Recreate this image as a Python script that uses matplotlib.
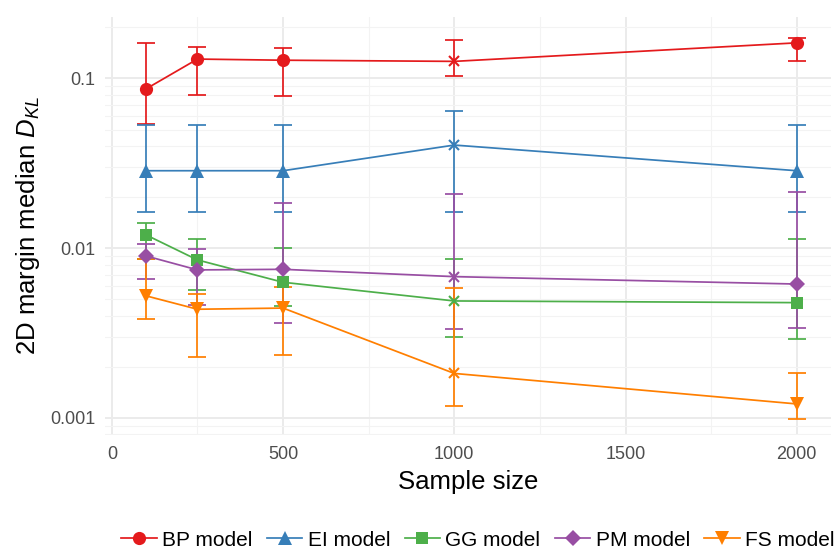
import matplotlib
matplotlib.use('Agg')
import matplotlib.pyplot as plt
from matplotlib.lines import Line2D
from matplotlib.ticker import FixedLocator, FixedFormatter, NullFormatter

plt.rcParams['font.family'] = ['Liberation Sans', 'DejaVu Sans']
plt.rcParams['mathtext.fontset'] = 'custom'
plt.rcParams['mathtext.rm'] = 'Liberation Sans'
plt.rcParams['mathtext.it'] = 'Liberation Sans:italic'

# ---------------- data ----------------
sample_sizes = [100, 250, 500, 1000, 2000]
models = ['BP model', 'EI model', 'GG model', 'PM model', 'FS model']

bp_median = [0.0868, 0.130, 0.128, 0.126, 0.162]
bp_lower = [0.054, 0.0796, 0.0788, 0.1035, 0.126]
bp_upper = [0.161, 0.154, 0.152, 0.169, 0.174]

ei_median = [0.0286, 0.0286, 0.0286, 0.0405, 0.0286]
ei_lower = [0.01637, 0.01637, 0.01637, 0.01637, 0.01637]
ei_upper = [0.0534, 0.0534, 0.0534, 0.0646, 0.0534]

gg_median = [0.01197, 0.00853, 0.00630, 0.00489, 0.00478]
gg_lower = [0.0086, 0.00568, 0.00458, 0.0030, 0.00291]
gg_upper = [0.01416, 0.0113, 0.01003, 0.00868, 0.01138]

pm_median = [0.0090, 0.00745, 0.00751, 0.00680, 0.00615]
pm_lower = [0.00656, 0.00461, 0.00364, 0.00334, 0.0034]
pm_upper = [0.0106, 0.00986, 0.0184, 0.0209, 0.0214]

fs_median = [0.00524, 0.00437, 0.00444, 0.00183, 0.00121]
fs_lower = [0.00383, 0.0023, 0.00236, 0.00117, 0.00098]
fs_upper = [0.0086, 0.00537, 0.00589, 0.00586, 0.00183]

colors = ['#E41A1C', '#377EB8', '#4DAF4A', '#984EA3', '#FF7F00']
markers = ['o', '^', 's', 'D', 'v']
msizes = [9.5, 9.5, 8.5, 8.5, 9.5]
cross_at = 1000  # points at this sample size are drawn as crosses

y_ticks = [0.001, 0.01, 0.1]
y_tick_labels = ['0.001', '0.01', '0.1']
x_ticks = [0, 500, 1000, 1500, 2000]

medians = [bp_median, ei_median, gg_median, pm_median, fs_median]
lowers = [bp_lower, ei_lower, gg_lower, pm_lower, fs_lower]
uppers = [bp_upper, ei_upper, gg_upper, pm_upper, fs_upper]

# ---------------- figure ----------------
fig = plt.figure(figsize=(8.38, 5.49), dpi=100)
ax = fig.add_axes([105/838, 1 - 435/549, (831-105)/838, (435-17)/549])
ax.set_facecolor('white')
for s in ax.spines.values():
    s.set_visible(False)

ax.set_yscale('log')
ax.set_xlim(-20, 2100)
ax.set_ylim(0.000794, 0.230)

ax.yaxis.set_major_locator(FixedLocator(y_ticks))
ax.yaxis.set_major_formatter(FixedFormatter(y_tick_labels))
minor_y = [m * d for d in [0.0001, 0.001, 0.01, 0.1] for m in range(2, 10)]
ax.yaxis.set_minor_locator(FixedLocator(minor_y))
ax.yaxis.set_minor_formatter(NullFormatter())
ax.xaxis.set_major_locator(FixedLocator(x_ticks))
ax.xaxis.set_minor_locator(FixedLocator([250, 750, 1250, 1750]))

ax.grid(which='major', color='#EBEBEB', linewidth=1.4, zorder=0)
ax.grid(which='minor', color='#F3F3F3', linewidth=0.8, zorder=0)
ax.set_axisbelow(True)
ax.tick_params(which='both', length=0)
ax.tick_params(axis='both', labelsize=13, labelcolor='#4D4D4D')
ax.tick_params(axis='x', pad=8)
ax.tick_params(axis='y', pad=7)

for med, lo, up, c, m, ms in zip(medians, lowers, uppers, colors, markers, msizes):
    yerr = [[md - l for md, l in zip(med, lo)], [u - md for md, u in zip(med, up)]]
    ax.errorbar(sample_sizes, med, yerr=yerr, fmt='none', ecolor=c,
                elinewidth=1.25, capsize=6.2, capthick=1.25, zorder=2)
    ax.plot(sample_sizes, med, color=c, lw=1.25, zorder=3)
    xs = [x for x in sample_sizes if x != cross_at]
    ys = [y for x, y in zip(sample_sizes, med) if x != cross_at]
    ax.plot(xs, ys, linestyle='none', marker=m, markersize=ms, color=c,
            markeredgewidth=0, zorder=4)
    xc = [x for x in sample_sizes if x == cross_at]
    yc = [y for x, y in zip(sample_sizes, med) if x == cross_at]
    ax.plot(xc, yc, linestyle='none', marker='x', markersize=7.5, color=c,
            markeredgewidth=1.5, zorder=4)

ax.set_xlabel('Sample size', fontsize=18.5, labelpad=5)
ax.set_ylabel(r'2D margin median $D_{KL}$', fontsize=18.5, labelpad=6)

handles = [Line2D([], [], color=c, lw=1.25, marker=m, markersize=ms, markeredgewidth=0)
           for c, m, ms in zip(colors, markers, msizes)]
fig.legend(handles, models, loc='center', bbox_to_anchor=(478/838, 1 - 540/549),
           ncol=5, frameon=False, fontsize=15, handlelength=1.7,
           handletextpad=0.25, columnspacing=0.7, borderpad=0, borderaxespad=0)

fig.savefig('out.png', dpi=100, facecolor='white')
